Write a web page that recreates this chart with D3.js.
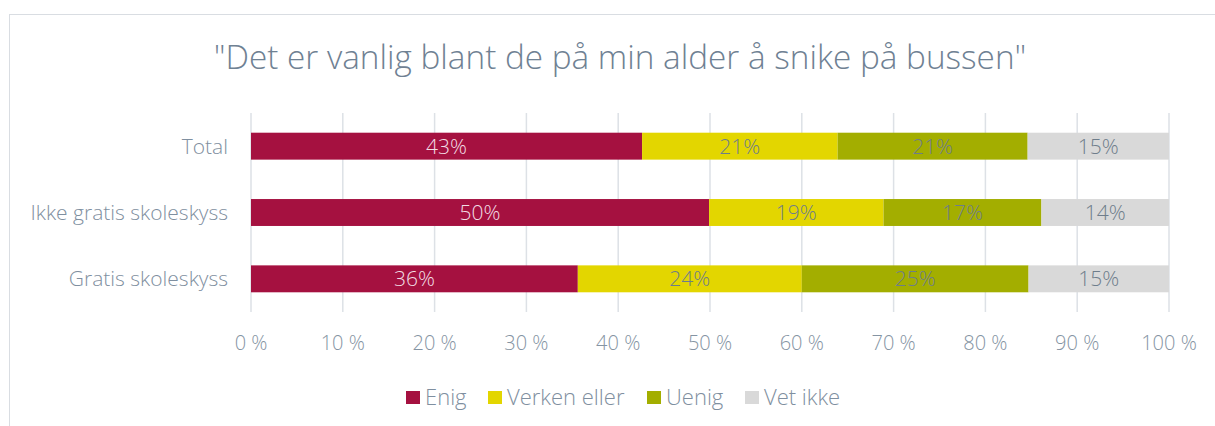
<!DOCTYPE html>
<html>
<head>
<meta charset="utf-8">
<script src="https://cdn.jsdelivr.net/npm/d3@7"></script>
<style>
  body { margin: 0; background: #fff; }
  text { font-family: "Open Sans", sans-serif; font-weight: 300; }
</style>
</head>
<body>
<div id="graf"></div>
<script>
const categories = ["Total", "Ikke gratis skoleskyss", "Gratis skoleskyss"]
const series = ["Enig", "Verken eller", "Uenig", "Vet ikke"]
const enig = [42.6, 49.9, 35.6]
const verken = [21.3, 19.0, 24.4]
const uenig = [20.7, 17.2, 24.7]
const vetIkke = [15.4, 13.9, 15.3]
const xTicks = [0, 10, 20, 30, 40, 50, 60, 70, 80, 90, 100]
const colors = ["#a51140", "#e3d600", "#a3ae00", "#d9d9d9"]
const labelColors = ["#f2dde4", "#6e7d8b", "#6e7d8b", "#6e7d8b"]

const anchoTotal = 1215
const altoTotal = 426
const margins = { top: 113, right: 46, bottom: 114, left: 251 }
const ancho = anchoTotal - margins.left - margins.right
const alto = altoTotal - margins.top - margins.bottom

const svg = d3.select("#graf").append("svg")
  .attr("width", anchoTotal).attr("height", altoTotal)

// marco del grafico
svg.append("rect")
  .attr("x", 9.5).attr("y", 14.5)
  .attr("width", 1230).attr("height", 430)
  .attr("fill", "none").attr("stroke", "#d9dde2")

svg.append("text")
  .attr("x", 620).attr("y", 69)
  .attr("text-anchor", "middle")
  .attr("fill", "#6f8193")
  .style("font-size", "33.3px")
  .text('"Det er vanlig blant de på min alder å snike på bussen"')

const g = svg.append("g").attr("transform", `translate(${margins.left}, ${margins.top})`)

const x = d3.scaleLinear().domain([0, 100]).range([0, ancho])
const y = d3.scaleBand().domain(categories).range([0, alto]).paddingInner(0.594).paddingOuter(0.297)

// grid
g.selectAll(".grid").data(xTicks).enter().append("line")
  .attr("x1", d => x(d)).attr("x2", d => x(d))
  .attr("y1", 0).attr("y2", alto)
  .attr("stroke", "#dde1e6").attr("stroke-width", 1.5)

const rows = categories.map((c, i) => ({ cat: c, vals: [enig[i], verken[i], uenig[i], vetIkke[i]] }))
const stack = d3.stack().keys([0, 1, 2, 3]).value((d, k) => d.vals[k])(rows)

const capas = g.selectAll(".capa").data(stack).enter().append("g")
  .attr("fill", (d, i) => colors[i])

capas.selectAll("rect").data(d => d).enter().append("rect")
  .attr("x", d => x(d[0]))
  .attr("y", d => y(d.data.cat))
  .attr("width", d => x(d[1]) - x(d[0]))
  .attr("height", y.bandwidth())

capas.selectAll("text").data((d, i) => d.map(v => ({ v, i }))).enter().append("text")
  .attr("x", d => x((d.v[0] + d.v[1]) / 2))
  .attr("y", d => y(d.v.data.cat) + y.bandwidth() / 2)
  .attr("dy", "0.36em")
  .attr("text-anchor", "middle")
  .attr("fill", d => labelColors[d.i])
  .style("font-size", "21px")
  .text(d => Math.round(d.v[1] - d.v[0]) + "%")

// eje x
g.selectAll(".tick").data(xTicks).enter().append("text")
  .attr("x", d => x(d)).attr("y", alto + 31)
  .attr("dy", "0.36em")
  .attr("text-anchor", "middle")
  .attr("fill", "#8594a3")
  .style("font-size", "20px")
  .text(d => d + " %")

// eje y
g.selectAll(".cat").data(categories).enter().append("text")
  .attr("x", -23).attr("y", d => y(d) + y.bandwidth() / 2)
  .attr("dy", "0.36em")
  .attr("text-anchor", "end")
  .attr("fill", "#7f8fa0")
  .style("font-size", "21px")
  .text(d => d)

// leyenda
const legX = [406, 488, 647, 745]
const ley = svg.append("g").selectAll("g").data(series).enter().append("g")
  .attr("transform", (d, i) => `translate(${legX[i]}, 397)`)
ley.append("rect").attr("x", 0).attr("y", -6).attr("width", 14).attr("height", 13)
  .attr("fill", (d, i) => colors[i])
ley.append("text").attr("x", 19).attr("dy", "0.36em")
  .attr("fill", "#7f8fa0").style("font-size", "22px")
  .text(d => d)
</script>
</body>
</html>
